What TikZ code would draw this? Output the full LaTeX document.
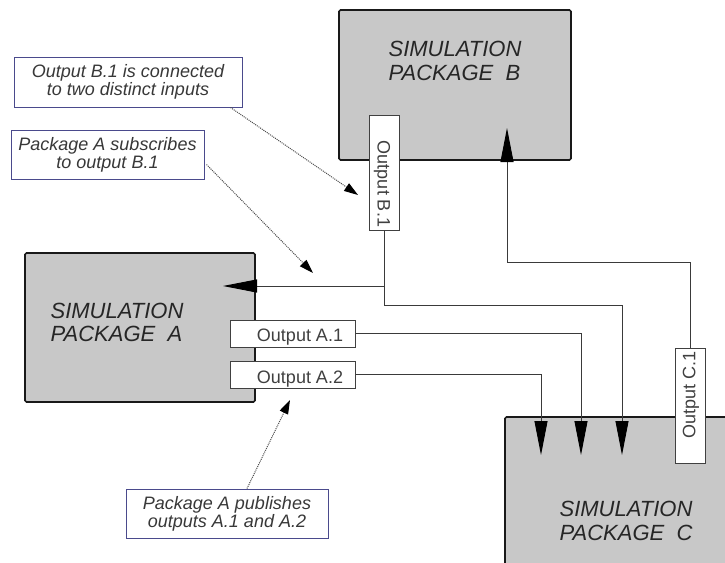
\documentclass[tikz,border=0pt]{standalone}
\usepackage{fontspec}
\setmainfont{Liberation Sans}
\usetikzlibrary{arrows.meta,calc}
\definecolor{pkgfill}{HTML}{C8C8C8}
\definecolor{calloutline}{HTML}{4A4A8C}
\definecolor{wirecol}{HTML}{3A3A3A}
\begin{document}
\begin{tikzpicture}[x=1pt,y=-1pt,
 pkg/.style={draw=black!90, line width=1.6pt, fill=pkgfill, rounded corners=1.5pt, inner sep=0pt},
 pkgtext/.style={font=\fontsize{22}{23.5}\selectfont\itshape, text=black!85, align=left, inner sep=0pt},
 outbox/.style={draw=black!75, line width=1pt, fill=white, inner sep=0pt},
 outtext/.style={font=\fontsize{18}{19}\selectfont, text=black!75, inner sep=0pt},
 callout/.style={draw=calloutline, line width=1pt, fill=white, inner sep=0pt, align=center, font=\fontsize{18}{18}\selectfont\itshape, text=black!78},
 wire/.style={draw=wirecol, line width=0.9pt},
 bigtip/.style={-{Triangle[length=34pt,width=13pt,color=black]}},
 note/.style={draw=black!70, densely dotted, line width=1pt, -{Triangle[length=14pt,width=9pt,color=black]}}
]
\useasboundingbox (0,0) rectangle (725,562);
\clip (0,0) rectangle (725,562);
\fill[white] (0,0) rectangle (725,562);

% packages
\node[pkg, minimum width=232pt, minimum height=150pt] (pkgB) at (455,85) {};
\node[pkgtext] (txtB) at (455,61) {SIMULATION\\PACKAGE\ \ B};
\node[pkg, minimum width=230pt, minimum height=149pt] (pkgA) at (140,327.5) {};
\node[pkgtext] (txtA) at (117,322.5) {SIMULATION\\PACKAGE\ \ A};
\node[pkg, minimum width=230pt, minimum height=160pt] (pkgC) at (620,497) {};
\node[pkgtext] (txtC) at (626,521) {SIMULATION\\PACKAGE\ \ C};

% output boxes
\node[outbox, minimum width=30pt, minimum height=115pt] (outB1) at (384,172.5) {};
\node[outtext, rotate=-90] (lblB1) at (382,184) {Output B.1};
\node[outbox, minimum width=125pt, minimum height=27pt] (outA1) at (292.5,333.5) {};
\node[outtext] (lblA1) at (300,337) {Output A.1};
\node[outbox, minimum width=125pt, minimum height=27pt] (outA2) at (292.5,374.5) {};
\node[outtext] (lblA2) at (300,379) {Output A.2};
\node[outbox, minimum width=30pt, minimum height=115pt] (outC1) at (690,405.5) {};
\node[outtext, rotate=90] (lblC1) at (691,395) {Output C.1};

% wire coordinates
\coordinate (jB) at (384,286);
\coordinate (kB) at (384,305);
\coordinate (tipA) at (223,286);
\coordinate (tipC1) at (541,455);
\coordinate (tipC2) at (581,455);
\coordinate (tipC3) at (622,455);
\coordinate (tipB) at (507,128);

\draw[wire, bigtip] (outB1.south) -- (kB) -| (tipC3);
\draw[wire, bigtip] (jB) -- (tipA);
\draw[wire, bigtip] (outA1.east) -| (tipC2);
\draw[wire, bigtip] (outA2.east) -| (tipC1);
\draw[wire, bigtip] (outC1.north) -- ++(0,-85) -| (tipB);

% callouts
\node[callout, minimum width=228pt, minimum height=50pt] (call1) at (128,82) {Output B.1 is connected\\to two distinct inputs};
\node[callout, minimum width=193pt, minimum height=49pt] (call2) at (107.5,154.5) {Package A subscribes\\to output B.1};
\node[callout, minimum width=202pt, minimum height=49pt] (call3) at (227,513.5) {Package A publishes\\outputs A.1 and A.2};

\coordinate (tipN1) at (358,195);
\coordinate (tipN2) at (313,273);
\coordinate (tipN3) at (290,400);
\draw[note] ($(call1.south east)+(-12,0)$) -- (tipN1);
\draw[note] ($(call2.east)+(2,10)$) -- (tipN2);
\draw[note] ($(call3.north)+(20,0)$) -- (tipN3);
\end{tikzpicture}
\end{document}
